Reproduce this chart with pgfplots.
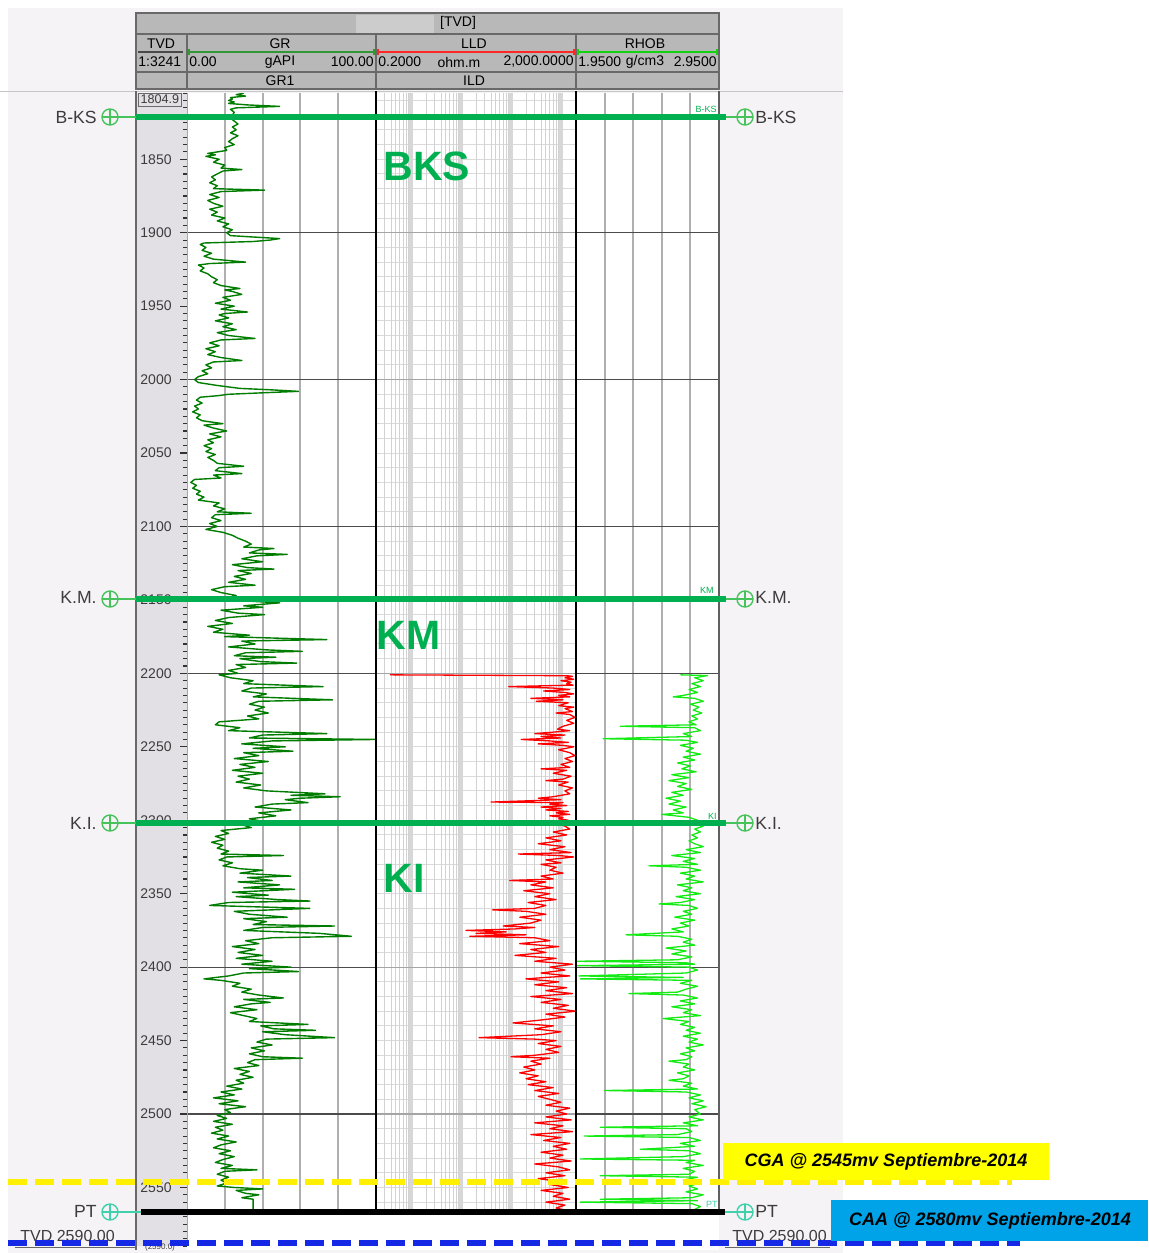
\documentclass[border=0pt]{standalone}
\usepackage{pgfplots}
\pgfplotsset{compat=1.18}
\usepackage{pgfplotstable}
\usepackage{fontspec}
\setmainfont{Liberation Sans}

\definecolor{bglav}{RGB}{246,243,247}
\definecolor{hdr}{RGB}{184,184,184}
\definecolor{hdrb}{RGB}{105,105,105}
\definecolor{hdrl}{RGB}{204,204,204}
\definecolor{tvdbg}{RGB}{226,223,229}
\definecolor{tvdtick}{RGB}{50,50,50}
\definecolor{fgreen}{RGB}{0,176,80}
\definecolor{mgreen}{RGB}{70,195,90}
\definecolor{pteal}{RGB}{64,208,172}
\definecolor{grc}{RGB}{0,125,0}
\definecolor{lldc}{RGB}{255,0,0}
\definecolor{rhoc}{RGB}{20,235,20}
\definecolor{gridg}{RGB}{175,175,175}
\definecolor{gridd}{RGB}{75,75,75}
\definecolor{lldmin}{RGB}{210,210,210}
\definecolor{lldmaj}{RGB}{215,215,215}
\definecolor{lldh}{RGB}{218,218,218}
\definecolor{lldhm}{RGB}{165,165,165}
\definecolor{ybox}{RGB}{255,255,0}
\definecolor{ydash}{RGB}{255,240,0}
\definecolor{bbox}{RGB}{0,162,232}
\definecolor{bdash}{RGB}{20,40,230}
\definecolor{labg}{RGB}{60,60,60}

\pgfplotstableread[row sep=\\]{
d v\\
1805 30\\1806 26\\1807 31\\1808 23\\1809 24\\1810 22\\1811 25\\1812 22\\1813 32\\1814 49\\1815 26\\1816 23\\1818 25\\1820 24\\1822 23\\1824 25\\1826 27\\1828 24\\1830 26\\1832 23\\1834 27\\1836 24\\1838 22\\1840 25\\1842 20\\1844 21\\1846 11\\1847 15\\1848 10\\1850 17\\1852 14\\1854 20\\1856 18\\1857 29\\1858 19\\1860 16\\1862 13\\1864 15\\1866 12\\1868 16\\1870 14\\1871 41\\1872 18\\1874 12\\1876 17\\1878 11\\1880 14\\1882 19\\1884 12\\1886 16\\1888 13\\1890 20\\1892 16\\1894 22\\1896 19\\1898 24\\1900 21\\1902 23\\1903 36\\1904 49\\1905 44\\1906 35\\1907 9\\1908 7\\1910 10\\1912 8\\1914 13\\1916 9\\1918 14\\1920 31\\1921 12\\1922 6\\1924 9\\1926 7\\1928 11\\1930 13\\1932 16\\1934 14\\1936 18\\1938 28\\1939 20\\1940 24\\1942 29\\1944 19\\1946 23\\1948 15\\1950 25\\1952 18\\1954 32\\1955 20\\1956 17\\1958 22\\1960 15\\1962 24\\1964 19\\1966 26\\1968 16\\1970 22\\1972 36\\1973 18\\1975 12\\1977 17\\1979 10\\1981 15\\1983 11\\1985 18\\1987 29\\1988 14\\1990 10\\1992 13\\1994 8\\1996 11\\1998 6\\2000 4\\2002 6\\2004 16\\2006 28\\2007 45\\2008 59\\2009 40\\2010 22\\2011 16\\2012 7\\2014 5\\2016 8\\2018 4\\2020 6\\2022 3\\2024 7\\2026 5\\2028 8\\2030 19\\2031 9\\2033 14\\2035 21\\2037 12\\2039 18\\2041 11\\2043 14\\2045 9\\2047 13\\2049 10\\2051 15\\2053 11\\2055 14\\2057 16\\2059 30\\2060 17\\2062 15\\2064 29\\2065 14\\2067 18\\2068 4\\2070 2\\2072 5\\2074 3\\2076 7\\2078 5\\2080 9\\2082 6\\2084 17\\2086 14\\2088 20\\2090 16\\2091 34\\2092 15\\2094 13\\2096 18\\2098 12\\2100 16\\2102 10\\2104 19\\2106 24\\2108 27\\2110 31\\2112 34\\2114 30\\2115 46\\2116 38\\2118 33\\2119 53\\2120 37\\2122 29\\2124 40\\2126 24\\2128 32\\2129 46\\2130 27\\2132 34\\2134 25\\2136 31\\2138 22\\2140 36\\2141 20\\2143 13\\2145 18\\2147 26\\2149 21\\2151 35\\2152 49\\2154 30\\2155 40\\2157 18\\2159 27\\2160 41\\2162 22\\2164 15\\2166 24\\2168 11\\2170 19\\2172 14\\2174 33\\2175 20\\2177 74\\2178 29\\2180 36\\2182 22\\2184 42\\2185 61\\2186 31\\2188 25\\2189 47\\2190 28\\2192 39\\2193 58\\2194 26\\2196 31\\2198 22\\2200 27\\2201 17\\2203 23\\2205 35\\2207 30\\2209 72\\2210 34\\2212 29\\2214 42\\2216 35\\2218 77\\2219 38\\2221 33\\2223 41\\2225 36\\2227 43\\2229 32\\2231 38\\2233 17\\2235 15\\2237 28\\2239 22\\2241 74\\2242 40\\2244 33\\2245 100\\2246 45\\2248 29\\2250 52\\2251 35\\2253 56\\2254 30\\2256 38\\2258 25\\2260 43\\2262 28\\2264 36\\2266 24\\2268 40\\2270 27\\2272 33\\2274 26\\2276 39\\2278 30\\2280 42\\2282 73\\2283 55\\2284 81\\2285 60\\2286 52\\2288 64\\2289 45\\2291 36\\2293 55\\2295 38\\2297 47\\2299 33\\2301 41\\2303 29\\2305 34\\2307 18\\2309 22\\2311 15\\2313 20\\2315 13\\2317 19\\2319 16\\2321 22\\2323 18\\2324 51\\2325 21\\2327 17\\2329 24\\2331 19\\2333 28\\2334 40\\2336 28\\2338 55\\2339 32\\2341 45\\2342 27\\2344 49\\2346 30\\2347 57\\2349 24\\2351 43\\2352 26\\2354 48\\2355 65\\2356 22\\2358 12\\2359 38\\2360 65\\2362 25\\2364 33\\2366 53\\2367 30\\2369 42\\2371 35\\2372 78\\2373 40\\2375 30\\2377 70\\2379 87\\2380 45\\2382 31\\2384 38\\2386 24\\2388 36\\2390 27\\2392 40\\2394 26\\2396 45\\2398 29\\2400 55\\2401 33\\2403 59\\2404 30\\2406 22\\2408 9\\2409 18\\2411 28\\2413 24\\2415 34\\2417 29\\2419 38\\2421 51\\2422 30\\2424 44\\2425 34\\2427 25\\2429 37\\2431 23\\2433 30\\2435 37\\2437 33\\2439 64\\2440 39\\2442 46\\2443 68\\2444 40\\2446 52\\2448 78\\2449 42\\2451 37\\2453 45\\2455 34\\2457 41\\2459 33\\2461 40\\2462 61\\2463 36\\2465 32\\2467 38\\2469 25\\2471 33\\2473 28\\2475 35\\2477 26\\2479 30\\2481 21\\2483 29\\2485 18\\2487 25\\2489 14\\2491 27\\2493 17\\2495 31\\2497 20\\2499 23\\2501 16\\2503 21\\2505 14\\2507 24\\2509 15\\2511 19\\2513 13\\2515 22\\2517 16\\2519 26\\2521 18\\2523 14\\2525 23\\2527 17\\2529 25\\2531 19\\2533 15\\2535 24\\2537 18\\2538 37\\2539 20\\2541 16\\2543 22\\2545 18\\2547 21\\2549 16\\2550 25\\2551 40\\2552 26\\2554 31\\2555 38\\2557 29\\2558 35\\2566.8 35\\
}\grdata

\pgfplotstableread[row sep=\\]{
d v\\
2201.0 0.38\\2201.6 1300\\2202 1700\\2203 1200\\2204 1800\\2205 1000\\2206 1600\\2207 1300\\2208 1750\\2209 90\\2210 700\\2211 1500\\2212 450\\2213 1200\\2214 1800\\2215 900\\2216 1500\\2217 250\\2218 1100\\2219 320\\2220 1400\\2222 900\\2223 1800\\2224 1200\\2226 1700\\2227 800\\2228 1500\\2230 1900\\2232 1300\\2234 1800\\2236 1100\\2238 850\\2239 1500\\2240 700\\2241 300\\2242 1200\\2243 400\\2244 1000\\2245 160\\2246 600\\2247 1400\\2248 350\\2249 1100\\2250 1800\\2252 900\\2254 1500\\2256 1900\\2258 1200\\2260 1700\\2262 1000\\2264 1500\\2265 400\\2266 1300\\2268 700\\2270 1600\\2272 1100\\2273 500\\2274 1400\\2276 900\\2278 1700\\2280 1200\\2282 1500\\2284 700\\2285 350\\2286 1000\\2287.6 40\\2288 1100\\2289 600\\2290 1300\\2291 400\\2292 1000\\2293 500\\2294 1400\\2295 800\\2296 1500\\2297 600\\2298 1100\\2299 900\\2300 1400\\2302 800\\2304 1200\\2306 1500\\2308 700\\2310 1300\\2312 500\\2314 1000\\2316 350\\2318 1200\\2320 600\\2322 1600\\2323 140\\2324 900\\2325 1800\\2327 500\\2329 1000\\2330 400\\2332 800\\2334 600\\2336 1100\\2338 400\\2340 700\\2341 95\\2342 500\\2344 250\\2346 700\\2348 180\\2350 600\\2352 300\\2354 800\\2356 220\\2358 500\\2360 300\\2361 43\\2362 200\\2364 500\\2366 150\\2368 400\\2370 250\\2372 70\\2373 300\\2374 120\\2375 12.6\\2376 80\\2377 20\\2378 200\\2379 15\\2380 300\\2382 600\\2384 150\\2386 900\\2388 250\\2390 500\\2392 120\\2394 800\\2396 300\\2398 1700\\2400 600\\2402 1200\\2404 400\\2406 1500\\2407 500\\2408 200\\2410 900\\2412 300\\2414 1300\\2416 500\\2418 1700\\2420 250\\2422 1000\\2424 400\\2426 1400\\2428 700\\2430 2000\\2432 500\\2434 1200\\2436 400\\2438 110\\2440 700\\2442 300\\2444 1000\\2446 400\\2448 23\\2449 300\\2450 800\\2452 350\\2454 1000\\2456 500\\2458 900\\2460 300\\2461 100\\2462 600\\2464 250\\2466 400\\2468 180\\2470 300\\2472 150\\2474 350\\2476 200\\2478 500\\2480 220\\2482 700\\2484 300\\2486 900\\2488 350\\2490 600\\2492 1000\\2494 500\\2496 1500\\2498 800\\2500 1300\\2502 500\\2504 1600\\2506 300\\2508 1100\\2510 600\\2512 1700\\2514 250\\2516 1000\\2518 450\\2520 1500\\2522 700\\2524 1300\\2526 400\\2528 1100\\2530 600\\2532 1600\\2534 300\\2536 900\\2538 1500\\2540 500\\2542 1200\\2544 350\\2546 1000\\2548 600\\2550 1400\\2552 400\\2554 1100\\2556 700\\2558 1500\\2560 500\\2562 1200\\2564 800\\2566 1400\\
}\llddata

\pgfplotstableread[row sep=\\]{
d v\\
2201 2.68\\2201.5 2.87\\2203 2.78\\2205 2.84\\2207 2.76\\2209 2.82\\2211 2.74\\2213 2.80\\2215 2.70\\2216 2.63\\2217 2.78\\2219 2.84\\2221 2.75\\2223 2.81\\2225 2.77\\2227 2.83\\2229 2.76\\2231 2.80\\2233 2.74\\2235 2.79\\2236 2.26\\2237 2.78\\2239 2.82\\2241 2.70\\2243 2.76\\2244.5 2.14\\2245.5 2.72\\2247 2.80\\2249 2.68\\2251 2.77\\2253 2.72\\2255 2.82\\2257 2.70\\2259 2.78\\2261 2.66\\2263 2.75\\2265 2.69\\2267 2.79\\2269 2.62\\2271 2.74\\2273 2.60\\2275 2.72\\2277 2.66\\2279 2.76\\2281 2.62\\2283 2.70\\2285 2.58\\2287 2.68\\2289 2.60\\2291 2.72\\2293 2.63\\2295 2.70\\2296 2.55\\2298 2.74\\2300 2.80\\2302 2.76\\2304 2.84\\2306 2.78\\2308 2.82\\2310 2.76\\2312 2.80\\2314 2.74\\2316 2.78\\2318 2.84\\2320 2.72\\2322 2.82\\2324 2.62\\2326 2.78\\2328 2.70\\2330 2.80\\2331 2.46\\2332 2.72\\2334 2.82\\2336 2.68\\2338 2.78\\2340 2.72\\2342 2.84\\2344 2.66\\2346 2.76\\2348 2.70\\2350 2.82\\2352 2.65\\2354 2.78\\2356 2.68\\2357 2.53\\2358 2.74\\2360 2.80\\2362 2.70\\2364 2.76\\2366 2.64\\2368 2.78\\2370 2.68\\2372 2.74\\2374 2.62\\2376 2.70\\2378 2.30\\2379 2.66\\2381 2.76\\2383 2.70\\2385 2.78\\2387 2.58\\2389 2.72\\2391 2.62\\2393 2.76\\2395 2.66\\2396 1.96\\2397 2.72\\2398 2.78\\2399 1.96\\2400 2.74\\2402 2.80\\2404 2.72\\2406 1.97\\2407 2.70\\2408 1.98\\2409 2.76\\2411 2.68\\2413 2.80\\2415 2.72\\2417 2.66\\2418 2.32\\2419 2.70\\2421 2.80\\2423 2.68\\2425 2.78\\2427 2.62\\2429 2.76\\2431 2.70\\2433 2.82\\2435 2.56\\2437 2.74\\2439 2.68\\2441 2.78\\2443 2.72\\2445 2.82\\2447 2.70\\2449 2.80\\2451 2.74\\2453 2.84\\2455 2.72\\2457 2.78\\2459 2.68\\2461 2.76\\2463 2.72\\2464 2.60\\2466 2.74\\2468 2.70\\2470 2.78\\2472 2.66\\2474 2.74\\2476 2.70\\2477 2.60\\2479 2.76\\2481 2.70\\2483 2.80\\2484 2.15\\2485 2.72\\2487 2.82\\2489 2.74\\2491 2.84\\2493 2.76\\2495 2.86\\2497 2.78\\2500 2.82\\2502 2.74\\2504 2.84\\2506 2.70\\2508 2.80\\2509 2.12\\2510 2.72\\2512 2.76\\2514 2.66\\2515 2.01\\2516 2.74\\2518 2.82\\2520 2.68\\2522 2.78\\2524 2.40\\2525 2.74\\2527 2.82\\2529 2.70\\2530.6 1.98\\2531.5 2.78\\2533 2.72\\2535 2.84\\2537 2.70\\2539 2.78\\2541 2.74\\2542 2.12\\2543 2.80\\2545 2.70\\2547 2.82\\2549 2.74\\2551 2.80\\2553 2.72\\2555 2.84\\2557 2.76\\2558 2.12\\2559 2.80\\2560 1.98\\2561 2.76\\2563 2.82\\2565 2.78\\2566.5 2.84\\
}\rhodata

\newcommand\hf{\fontsize{7}{8}\selectfont}
\newcommand\mk[2]{% y, color
  \draw[#2, line width=0.7pt] (110,#1) circle[radius=8];
  \draw[#2, line width=0.7pt] (102,#1)--(118,#1) (110,#1-8)--(110,#1+8);
  \draw[#2, line width=0.7pt] (745,#1) circle[radius=8];
  \draw[#2, line width=0.7pt] (737,#1)--(753,#1) (745,#1-8)--(745,#1+8);
}

\pgfplotsset{track/.style={scale only axis, anchor=north west, y dir=reverse,
  ymin=1804.9, ymax=2567, height=559.7pt, xtick=\empty, ytick=\empty,
  axis line style={draw=none}, clip=true}}

\begin{document}
\begin{tikzpicture}
\begin{scope}[x=0.5pt,y=-0.5pt]
  \fill[white] (0,0) rectangle (1148,1253);
  \fill[bglav] (8,8) rectangle (843,1253);
  \fill[white] (187,93) rectangle (719,1250);
  \draw[gray!45, line width=0.5pt] (0,91) -- (843,91);
  % header
  \fill[hdr] (136,13) rectangle (719,89);
  \fill[hdrl] (356,15) rectangle (434,33);
  \draw[hdrb, line width=0.6pt] (136,13) rectangle (719,89);
  \draw[hdrb, line width=0.6pt] (136,34) -- (719,34) (136,72) -- (719,72);
  \draw[hdrb, line width=0.6pt] (187,34) -- (187,89) (376,34) -- (376,89) (576,34) -- (576,89);
  \draw[hdrb!70!black, line width=0.8pt] (138,52) -- (183,52);
  \draw[grc!80!white, line width=0.8pt] (189,52) -- (374,52) (189,49) -- (189,55) (374,49) -- (374,55);
  \draw[red!85!white, line width=0.8pt] (378,52) -- (574,52) (378,49) -- (378,55) (574,49) -- (574,55);
  \draw[rhoc!90!black, line width=0.8pt] (578,52) -- (717,52) (578,49) -- (578,55) (717,49) -- (717,55);
  \begin{scope}[every node/.style={font=\hf, inner sep=0.5pt, text=black}]
    \node at (458,23) {[TVD]};
    \node at (161,44) {TVD};
    \node at (280,44) {GR};
    \node at (474,44) {LLD};
    \node at (645,44) {RHOB};
    \node[anchor=west] at (137,62) {1:3241};
    \node[anchor=west] at (188,62) {0.00};
    \node at (280,62) {gAPI};
    \node[anchor=east] at (375,62) {100.00};
    \node[anchor=west] at (377,62) {0.2000};
    \node at (459,62) {ohm.m};
    \node[anchor=east] at (575,62) {2,000.0000};
    \node[anchor=west] at (577,62) {1.9500};
    \node at (645,62) {g/cm3};
    \node[anchor=east] at (718,62) {2.9500};
    \node at (280,81) {GR1};
    \node at (474,81) {ILD};
  \end{scope}
\end{scope}

% ---------- TVD track ----------
\begin{axis}[scale only axis, anchor=north west, at={(68pt,-46.5pt)},
  width=25.5pt, height=576.6pt, y dir=reverse, ymin=1804.9, ymax=2590,
  xmin=0, xmax=1, xtick=\empty,
  ytick={1850,1900,...,2550}, minor ytick={1805,1810,...,2590},
  ytick pos=right, yticklabel pos=right, tick align=inside,
  major tick length=3.5pt, minor tick length=2.2pt,
  every tick/.style={tvdtick, line width=0.55pt},
  yticklabel style={anchor=east, xshift=-7.5pt, inner sep=0pt, font=\fontsize{7}{8}\selectfont,
    text=labg, /pgf/number format/1000 sep={}, /pgf/number format/assume math mode=true},
  axis line style={draw=none}, axis background/.style={fill=tvdbg}]
  \addplot[draw=none] coordinates {(0.5,1900)};
\end{axis}

% ---------- GR track ----------
\begin{axis}[track, at={(93.5pt,-46.5pt)}, width=94.5pt, xmin=0, xmax=100]
  \pgfplotsinvokeforeach{20,40,60,80}{\draw[gridg, line width=1pt] (axis cs:#1,1804.9) -- (axis cs:#1,2567);}
  \pgfplotsinvokeforeach{1900,2000,2100,2200,2300,2400,2500}{\draw[gridd, line width=0.6pt] (axis cs:0,#1) -- (axis cs:100,#1);}
  \addplot[grc, line width=0.7pt, sharp plot, line join=round] table[x=v,y=d] {\grdata};
\end{axis}

% ---------- LLD track ----------
\begin{axis}[track, at={(188pt,-46.5pt)}, width=100pt, xmode=log, xmin=0.2, xmax=2000]
  \pgfplotsinvokeforeach{1810,1820,...,2560}{\draw[lldh, line width=0.5pt] (axis cs:0.2,#1) -- (axis cs:2000,#1);}
  \pgfplotsinvokeforeach{0.3,0.4,0.5,0.6,0.7,0.8,0.9,2,3,4,5,6,7,8,9,20,30,40,50,60,70,80,90,200,300,400,500,600,700,800,900}{\draw[lldmin, line width=0.5pt] (axis cs:#1,1804.9) -- (axis cs:#1,2567);}
  \pgfplotsinvokeforeach{1,10,100,1000}{\draw[lldmaj, line width=1.8pt] (axis cs:#1,1804.9) -- (axis cs:#1,2567);}
  \pgfplotsinvokeforeach{1900,2000,2100,2200,2300,2400,2500}{\draw[lldhm, line width=0.6pt] (axis cs:0.2,#1) -- (axis cs:2000,#1);}
  \addplot[lldc, line width=0.65pt, sharp plot, line join=round] table[x=v,y=d] {\llddata};
\end{axis}

% ---------- RHOB track ----------
\begin{axis}[track, at={(288pt,-46.5pt)}, width=71.5pt, xmin=1.95, xmax=2.95]
  \pgfplotsinvokeforeach{2.15,2.35,2.55,2.75}{\draw[gridg, line width=1pt] (axis cs:#1,1804.9) -- (axis cs:#1,2567);}
  \pgfplotsinvokeforeach{1900,2000,2100,2200,2300,2400,2500}{\draw[gridd, line width=0.6pt] (axis cs:1.95,#1) -- (axis cs:2.95,#1);}
  \addplot[rhoc, line width=0.65pt, sharp plot, line join=round] table[x=v,y=d] {\rhodata};
\end{axis}

\begin{scope}[x=0.5pt,y=-0.5pt]
  % borders
  \draw[hdrb, line width=0.9pt] (136,91) -- (136,1250);
  \draw[gray!70, line width=0.4pt] (187,93) -- (187,1246);
  \draw[black, line width=1.2pt] (376,91) -- (376,1212) (576,91) -- (576,1212);
  \draw[gray!75!black, line width=0.6pt] (719,91) -- (719,1212);
  % top depth box
  \node[draw=hdrb, fill=tvdbg, line width=0.5pt, inner sep=1pt, anchor=west,
        font=\fontsize{6.3}{7}\selectfont, text=labg, minimum height=6.5pt] at (138,99.5) {1804.9};
  \node[font=\fontsize{4}{4}\selectfont, text=labg] at (160,1247) {(2590.0)};
  % formation tops
  \foreach \yy in {117,599,823}{
    \draw[fgreen, line width=2.7pt] (136,\yy) -- (726,\yy);
    \draw[mgreen, line width=0.6pt] (118,\yy) -- (136,\yy) (726,\yy) -- (737,\yy);
    \mk{\yy}{mgreen}
  }
  \draw[black, line width=3pt] (141,1212) -- (725,1212);
  \draw[pteal, line width=0.7pt] (118,1212) -- (141,1212) (725,1212) -- (737,1212);
  \mk{1212}{pteal}
  \begin{scope}[every node/.style={font=\fontsize{8.8}{10}\selectfont, text=labg, inner sep=0pt}]
    \node[anchor=east] at (97,117) {B-KS};
    \node[anchor=east] at (97,597) {K.M.};
    \node[anchor=east] at (97,823) {K.I.};
    \node[anchor=east] at (97,1211) {PT};
    \node[anchor=west] at (755,117) {B-KS};
    \node[anchor=west] at (755,597) {K.M.};
    \node[anchor=west] at (755,823) {K.I.};
    \node[anchor=west] at (755,1211) {PT};
  \end{scope}
  \begin{scope}[every node/.style={font=\fontsize{4.5}{5}\selectfont, inner sep=0pt, anchor=south east}]
    \node[text=fgreen] at (717,113) {B-KS};
    \node[text=fgreen] at (714,594) {KM};
    \node[text=fgreen] at (717,820) {KI};
    \node[text=pteal] at (718,1208) {PT};
  \end{scope}
  \begin{scope}[every node/.style={font=\fontsize{20.5}{22}\selectfont\bfseries, text=fgreen, inner sep=0pt, anchor=west}]
    \node at (383,166) {BKS};
    \node at (376,635) {KM};
    \node at (383,878) {KI};
  \end{scope}
  % bottom labels
  \node[font=\fontsize{8}{9}\selectfont, text=labg, inner sep=0pt, anchor=west] at (20,1236) {TVD 2590.00};
  \draw[gray!80!black, line width=0.5pt] (15,1247) -- (135,1247);
  \node[font=\fontsize{8}{9}\selectfont, text=labg, inner sep=0pt, anchor=west] at (732,1236) {TVD 2590.00};
  \draw[gray!80!black, line width=0.5pt] (725,1247) -- (830,1247);
  % contacts
  \draw[ydash, line width=3pt, dash pattern=on 9.5pt off 4pt] (8,1182) -- (1012,1182);
  \fill[ybox] (723,1143) rectangle (1049,1180);
  \node[font=\fontsize{9}{10}\selectfont\bfseries\itshape, inner sep=0pt] at (886,1162) {CGA @ 2545mv Septiembre-2014};
  \draw[bdash, line width=3pt, dash pattern=on 9.5pt off 4pt] (8,1243) -- (1020,1243);
  \fill[bbox] (831,1200) rectangle (1148,1241);
  \node[font=\fontsize{9}{10}\selectfont\bfseries\itshape, inner sep=0pt] at (990,1221) {CAA @ 2580mv Septiembre-2014};
\end{scope}
\pgfresetboundingbox
\path[use as bounding box] (0,0) rectangle (574pt,-626.5pt);
\end{tikzpicture}
\end{document}
